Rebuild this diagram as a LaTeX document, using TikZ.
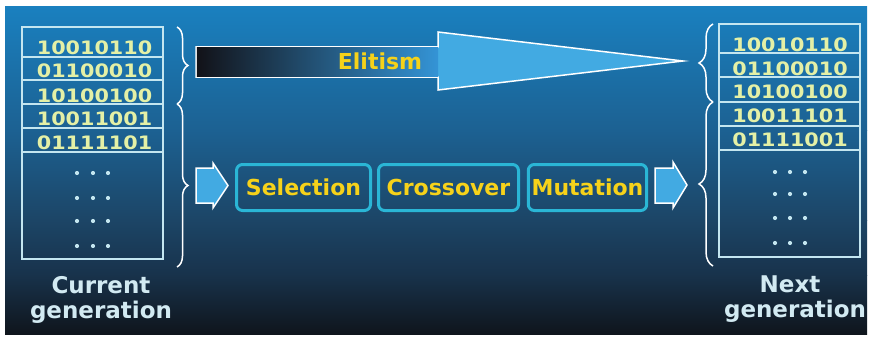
\documentclass[tikz,border=0pt]{standalone}
\usepackage{fontspec}
\setmainfont{DejaVu Sans}
\usetikzlibrary{decorations.pathreplacing}

\definecolor{bgA}{HTML}{1A80BF}
\definecolor{bgB}{HTML}{1C6192}
\definecolor{bgC}{HTML}{1C4566}
\definecolor{bgD}{HTML}{18324B}
\definecolor{bgE}{HTML}{0F151C}
\definecolor{linecol}{HTML}{C4E6F0}
\definecolor{bitcol}{HTML}{E4F0A6}
\definecolor{labelcol}{HTML}{D2EAF2}
\definecolor{gold}{HTML}{F6D21A}
\definecolor{arrowblue}{HTML}{42AAE2}
\definecolor{shaftdark}{HTML}{121218}
\definecolor{shaftmid}{HTML}{24488C}
\definecolor{shaftend}{HTML}{3494D6}
\definecolor{boxcyan}{HTML}{2AB6D6}

\newcommand{\wide}[1]{\scalebox{1.12}[1]{#1}}

\tikzset{
  bits/.style={font=\fontsize{18.5}{18.5}\selectfont\bfseries, text=bitcol, inner sep=0pt},
  caption/.style={font=\fontsize{23}{23}\selectfont\bfseries, text=labelcol, inner sep=0pt, anchor=base},
  rowline/.style={draw=linecol, line width=1.3pt},
  curly/.style={draw=white, line width=1.5pt, decorate, decoration={brace, amplitude=#1}},
  curly/.default=11pt,
  procbox/.style={draw=boxcyan, line width=3pt, rounded corners=6pt, minimum height=46pt,
    font=\fontsize{22}{22}\selectfont\bfseries, text=gold},
  fatarrow/.style={fill=arrowblue, draw=white, line width=1.5pt, line join=miter}
}

\begin{document}
\begin{tikzpicture}[x=1pt,y=-1pt]
  \useasboundingbox (0,0) rectangle (872,337);
  % frame and background
  \fill[white] (0,0) rectangle (872,337);
  \shade[top color=bgA, bottom color=bgB] (5,7) rectangle (867,130.5);
  \shade[top color=bgB, bottom color=bgC] (5,130) rectangle (867,220.5);
  \shade[top color=bgC, bottom color=bgD] (5,220) rectangle (867,275.5);
  \shade[top color=bgD, bottom color=bgE] (5,275) rectangle (867,334);

  % current generation
  \draw[rowline] (22,27) rectangle (163,259);
  \foreach \y in {57,80,104,128,152}
    \draw[rowline] (22,\y) -- (163,\y);
  \foreach \bit/\y [count=\i] in {10010110/48, 01100010/71, 10100100/96, 10011001/119, 01111101/143}
    \node[bits] (cur\i) at (94.5,\y) {\wide{\bit}};
  \foreach \y in {173,198,221,246}
    \foreach \x in {77,93,108}
      \fill[linecol] (\x,\y) circle (2.1pt);
  \node[caption] (curA) at (101,293) {Current};
  \node[caption] (curB) at (101,318) {generation};

  % next generation
  \draw[rowline] (719,24) rectangle (860,257);
  \foreach \y in {53,77,102,126,150}
    \draw[rowline] (719,\y) -- (860,\y);
  \foreach \bit/\y [count=\i] in {10010110/45, 01100010/69, 10100100/92, 10011101/116, 01111001/140}
    \node[bits] (next\i) at (790,\y) {\wide{\bit}};
  \foreach \y in {172,194,218,243}
    \foreach \x in {775,790,805}
      \fill[linecol] (\x,\y) circle (2.1pt);
  \node[caption] (nextA) at (790,292) {Next};
  \node[caption] (nextB) at (795,317) {generation};

  % braces
  \draw[curly] (177,27) -- (177,104);
  \draw[curly] (177,104) -- (177,267);
  \draw[curly=14pt] (713,102) -- (713,24);
  \draw[curly=14pt] (713,266) -- (713,102);

  % elitism arrow
  \path[fatarrow] (196,47) -- (438,47) -- (438,32) -- (683,61) -- (438,90) -- (438,77) -- (196,77) -- cycle;
  \shade[left color=shaftdark, middle color=shaftmid, right color=shaftend] (196.8,47.8) rectangle (438,76.2);
  \node[font=\fontsize{22}{22}\selectfont\bfseries, text=gold] (elit) at (380,61) {Elitism};

  % operators
  \path[fatarrow] (196,168) -- (213,168) -- (213,163) -- (228,185.5) -- (213,208) -- (213,203) -- (196,203) -- cycle;
  \node[procbox, minimum width=134pt] (sel) at (303.5,187.5) {Selection};
  \node[procbox, minimum width=140pt] (cross) at (448.5,187.5) {Crossover};
  \node[procbox, minimum width=116pt] (mut) at (587.5,187.5) {Mutation};
  \path[fatarrow] (655,168) -- (673,168) -- (673,162) -- (687,185) -- (673,208) -- (673,203) -- (655,203) -- cycle;
\end{tikzpicture}
\end{document}
